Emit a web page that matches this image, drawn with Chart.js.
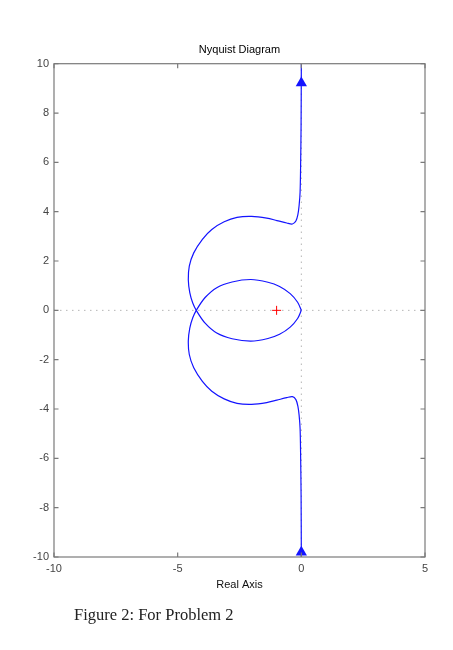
<!DOCTYPE html>
<html>
<head>
<meta charset="utf-8">
<script src="https://cdn.jsdelivr.net/npm/chart.js@4/dist/chart.umd.min.js"></script>
<style>
  html, body { margin: 0; padding: 0; background: #fff; }
  #figura { position: relative; width: 453px; height: 650px; }
  #grafico { position: absolute; left: 0; top: 0; }
  #pie { position: absolute; left: 74px; top: 607px; font-family: 'Liberation Serif', 'DejaVu Serif', serif; font-size: 16.5px; line-height: 16.5px; color: #222; white-space: nowrap; }
</style>
</head>
<body>
<div id="figura">
  <canvas id="grafico" width="453" height="650"></canvas>
  <div id="pie">Figure 2: For Problem 2</div>
</div>
<script>
// rama de frecuencias negativas: de (0,0) hacia +j inf
const upperX = [0, -0.15, -0.45, -0.88, -1.35, -2.04, -2.80, -3.42, -3.89, -4.23, -4.39, -4.51, -4.57, -4.53, -4.35, -4.00, -3.62, -3.12, -2.60, -2.01, -1.40, -0.99, -0.59, -0.36, -0.22, -0.14, -0.09, -0.05, -0.03, -0.01, 0];
const upperY = [0, -0.33, -0.68, -0.97, -1.14, -1.25, -1.15, -0.92, -0.52, -0.03, 0.30, 0.72, 1.24, 1.79, 2.33, 2.88, 3.28, 3.59, 3.77, 3.81, 3.74, 3.64, 3.54, 3.50, 3.62, 3.88, 4.25, 4.80, 5.80, 7.50, 10];

// rama de frecuencias positivas: de -j inf hacia (0,0)
const lowerX = [0, -0.01, -0.03, -0.05, -0.09, -0.14, -0.22, -0.36, -0.59, -0.99, -1.40, -2.01, -2.60, -3.12, -3.62, -4.00, -4.35, -4.53, -4.57, -4.51, -4.39, -4.23, -3.89, -3.42, -2.80, -2.04, -1.35, -0.88, -0.45, -0.15, 0];
const lowerY = [-10, -7.50, -5.80, -4.80, -4.25, -3.88, -3.62, -3.50, -3.54, -3.64, -3.74, -3.81, -3.77, -3.59, -3.28, -2.88, -2.33, -1.79, -1.24, -0.72, -0.30, 0.03, 0.52, 0.92, 1.15, 1.25, 1.14, 0.97, 0.68, 0.33, 0];

// flechas de direccion y punto critico
const arrowX = [0, 0];
const arrowY = [9.22, -9.81];
const criticalX = [-1];
const criticalY = [0];

const xTicks = [-10, -5, 0, 5];
const yTicks = [-10, -8, -6, -4, -2, 0, 2, 4, 6, 8, 10];

const toPoints = (xs, ys) => xs.map((v, i) => ({ x: v, y: ys[i] }));

document.addEventListener('DOMContentLoaded', () => {
    const ctx = document.getElementById('grafico');
    const blue = 'rgb(20,20,255)';
    const labelFont = { family: "'Liberation Sans', Arial, sans-serif", size: 11 };

    // caja de ejes con marcas hacia adentro, estilo matlab
    const axisBox = {
        id: 'axisBox',
        afterDatasetsDraw(chart) {
            const { ctx: c, chartArea: a, scales: { x, y } } = chart;
            c.save();
            c.strokeStyle = '#7a7a7a';
            c.lineWidth = 1.2;
            c.strokeRect(a.left, a.top, a.width, a.height);
            c.beginPath();
            xTicks.forEach(v => {
                const px = x.getPixelForValue(v);
                c.moveTo(px, a.bottom); c.lineTo(px, a.bottom - 4.5);
                c.moveTo(px, a.top); c.lineTo(px, a.top + 4.5);
            });
            yTicks.forEach(v => {
                const py = y.getPixelForValue(v);
                c.moveTo(a.left, py); c.lineTo(a.left + 4.5, py);
                c.moveTo(a.right, py); c.lineTo(a.right - 4.5, py);
            });
            c.stroke();
            c.restore();
        }
    };

    new Chart(ctx, {
        type: 'scatter',
        data: {
            datasets: [
                {
                    data: toPoints(arrowX, arrowY),
                    pointStyle: 'triangle',
                    pointRadius: 6.5,
                    backgroundColor: blue,
                    borderColor: blue,
                    borderWidth: 0,
                    showLine: false
                },
                {
                    data: toPoints(criticalX, criticalY),
                    pointStyle: 'cross',
                    pointRadius: 4.5,
                    borderColor: 'rgb(255,0,0)',
                    borderWidth: 1,
                    showLine: false
                },
                {
                    data: toPoints(upperX, upperY),
                    showLine: true,
                    borderColor: blue,
                    borderWidth: 1.2,
                    tension: 0.3,
                    pointRadius: 0
                },
                {
                    data: toPoints(lowerX, lowerY),
                    showLine: true,
                    borderColor: blue,
                    borderWidth: 1.2,
                    tension: 0.3,
                    pointRadius: 0
                },
                {
                    data: [{ x: -10, y: 0 }, { x: 5, y: 0 }],
                    showLine: true,
                    borderColor: '#b5b5b5',
                    borderWidth: 1,
                    borderDash: [1.5, 4.5],
                    pointRadius: 0
                },
                {
                    data: [{ x: 0, y: -10 }, { x: 0, y: 10 }],
                    showLine: true,
                    borderColor: '#b5b5b5',
                    borderWidth: 1,
                    borderDash: [1.5, 4.5],
                    pointRadius: 0
                }
            ]
        },
        options: {
            responsive: false,
            animation: false,
            layout: { padding: { left: 0, top: 0, right: 28, bottom: 0 } },
            plugins: {
                legend: { display: false },
                tooltip: { enabled: false },
                title: {
                    display: true,
                    text: 'Nyquist Diagram',
                    fullSize: false,
                    color: '#000',
                    font: { ...labelFont, weight: 'normal' },
                    padding: { top: 43, bottom: 7.5 }
                }
            },
            scales: {
                x: {
                    type: 'linear',
                    min: -10,
                    max: 5,
                    afterFit: s => { s.height = 93; },
                    afterBuildTicks: s => { s.ticks = xTicks.map(v => ({ value: v })); },
                    grid: { display: false, drawTicks: false },
                    border: { display: false },
                    ticks: { padding: 5, color: '#444', font: labelFont, maxRotation: 0, autoSkip: false },
                    title: {
                        display: true,
                        text: 'Real Axis',
                        color: '#111',
                        font: labelFont,
                        padding: { top: 0, bottom: 58.4 }
                    }
                },
                y: {
                    type: 'linear',
                    min: -10,
                    max: 10,
                    afterFit: s => { s.width = 54; },
                    afterBuildTicks: s => { s.ticks = yTicks.map(v => ({ value: v })); },
                    grid: { display: false, drawTicks: false },
                    border: { display: false },
                    ticks: { padding: 5, color: '#444', font: labelFont, autoSkip: false }
                }
            }
        },
        plugins: [axisBox]
    });
});
</script>
</body>
</html>
